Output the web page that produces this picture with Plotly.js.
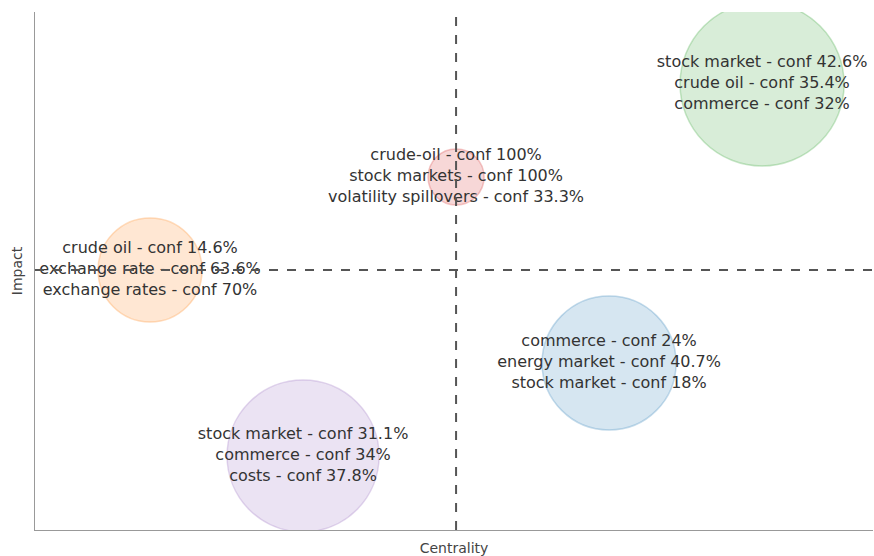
<!DOCTYPE html>
<html>
<head>
<meta charset="utf-8">
<script src="https://cdn.plot.ly/plotly-3.0.1.min.js"></script>
<style>
  html, body { margin: 0; padding: 0; background: #fff; }
  #chart { width: 874px; height: 556px; }
</style>
</head>
<body>
<div id="chart"></div>
<script>
// one bubble per cluster: centrality (x), impact (y), bubble size
const centrality = [1, 2, 3, 4, 5];
const impact = [3, 1, 4, 2, 5];
const bubbleSize = [104, 152, 56, 134, 164];
const clusterLabels = [
  ['crude oil - conf 14.6%', 'exchange rate - conf 63.6%', 'exchange rates - conf 70%'],
  ['stock market - conf 31.1%', 'commerce - conf 34%', 'costs - conf 37.8%'],
  ['crude-oil - conf 100%', 'stock markets - conf 100%', 'volatility spillovers - conf 33.3%'],
  ['commerce - conf 24%', 'energy market - conf 40.7%', 'stock market - conf 18%'],
  ['stock market - conf 42.6%', 'crude oil - conf 35.4%', 'commerce - conf 32%']
];
const clusterRgb = ['255,127,14', '148,103,189', '214,39,40', '31,119,180', '44,160,44'];

const mean = (arr) => arr.reduce((a, b) => a + b, 0) / arr.length;
const xMid = mean(centrality);
const yMid = mean(impact);

const bubbles = {
  type: 'scatter',
  mode: 'markers',
  x: centrality,
  y: impact,
  marker: {
    size: bubbleSize,
    sizemode: 'diameter',
    color: clusterRgb.map((c) => `rgba(${c},0.26)`),
    line: { color: clusterRgb.map((c) => `rgba(${c},0.38)`), width: 1.5 }
  },
  hoverinfo: 'skip',
  showlegend: false
};

const labels = {
  type: 'scatter',
  mode: 'text',
  x: centrality,
  y: impact,
  text: clusterLabels.map((lines) => lines.join('<br>')),
  textposition: 'middle center',
  textfont: { family: 'DejaVu Sans, Verdana, sans-serif', size: 16, color: '#333' },
  hoverinfo: 'skip',
  showlegend: false,
  cliponaxis: false
};

const axisTitleFont = { size: 14, family: 'DejaVu Sans, sans-serif', color: '#444' };

const layout = {
  width: 874,
  height: 556,
  margin: { l: 35, r: 1, t: 12, b: 26 },
  paper_bgcolor: '#fff',
  plot_bgcolor: '#fff',
  font: { family: 'DejaVu Sans, Verdana, sans-serif', color: '#444' },
  showlegend: false,
  xaxis: {
    range: [0.248, 5.725],
    showgrid: false,
    zeroline: false,
    showticklabels: false,
    ticks: '',
    showline: true,
    linecolor: '#999',
    linewidth: 1,
    title: { text: 'Centrality', font: axisTitleFont, standoff: 14 },
    automargin: false
  },
  yaxis: {
    range: [0.204, 5.774],
    showgrid: false,
    zeroline: false,
    showticklabels: false,
    ticks: '',
    showline: true,
    linecolor: '#999',
    linewidth: 1,
    title: { text: 'Impact', font: axisTitleFont, standoff: 8 },
    automargin: false
  },
  shapes: [
    { type: 'line', xref: 'x', yref: 'paper', x0: xMid, x1: xMid, y0: 0, y1: 1, layer: 'above',
      line: { color: '#555', width: 2, dash: 'dash' } },
    { type: 'line', xref: 'paper', yref: 'y', x0: 0, x1: 1, y0: yMid, y1: yMid, layer: 'above',
      line: { color: '#555', width: 2, dash: 'dash' } }
  ]
};

Plotly.newPlot('chart', [bubbles, labels], layout, { displayModeBar: false, staticPlot: true });
</script>
</body>
</html>
